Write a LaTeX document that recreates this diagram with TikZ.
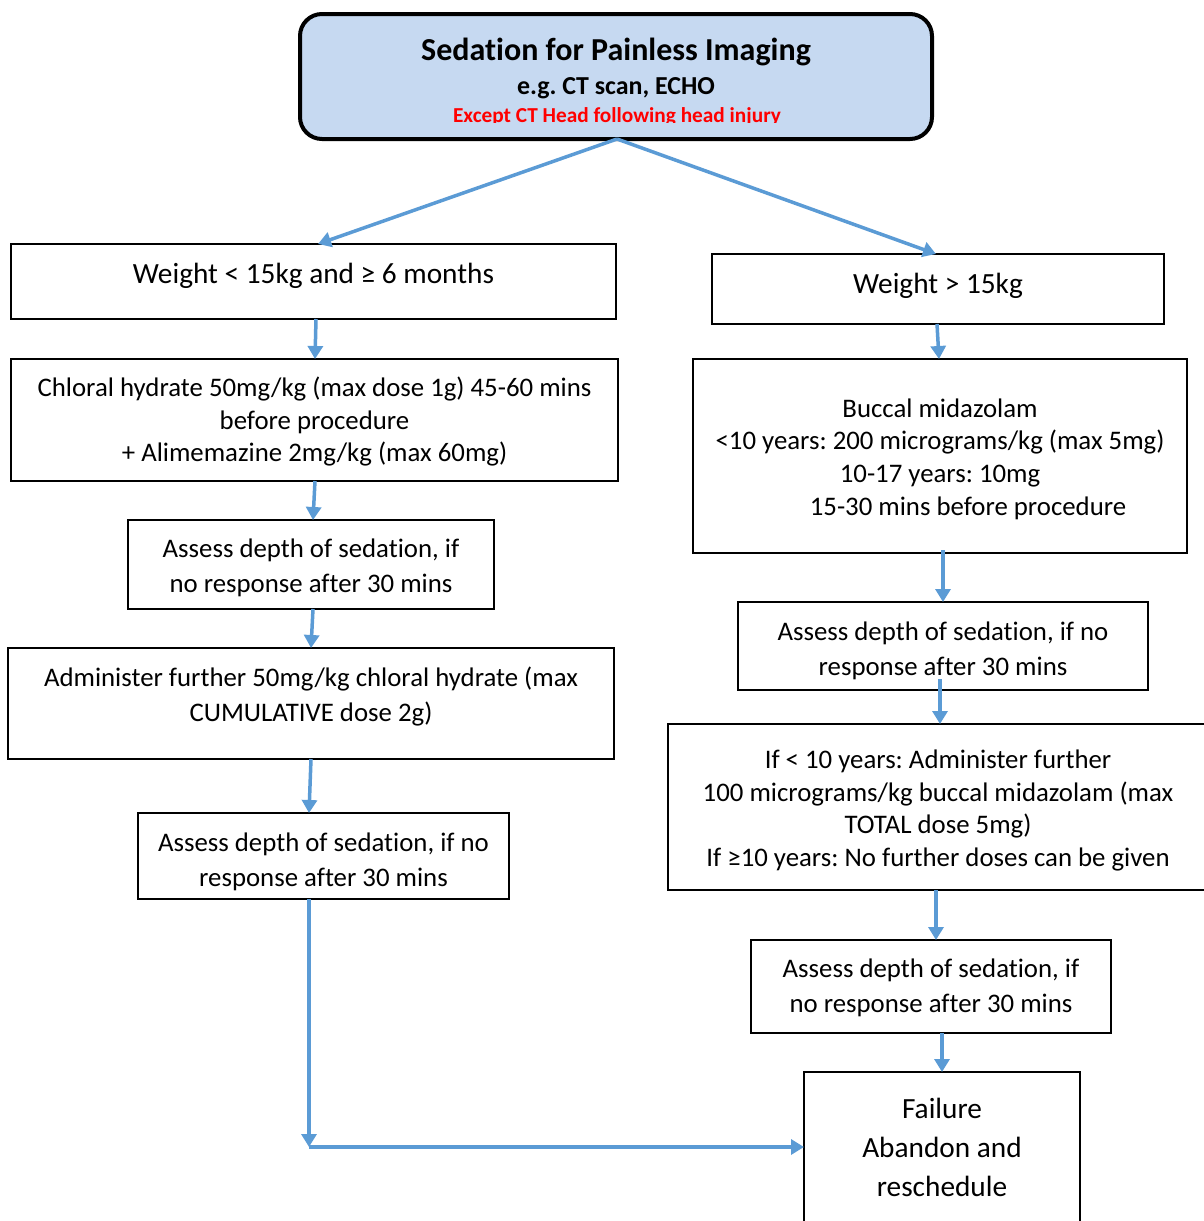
\documentclass[tikz,border=0pt]{standalone}
\usepackage{fontspec}
\setmainfont{Carlito}[Ligatures=NoCommon]
\usetikzlibrary{arrows.meta}
\definecolor{topfill}{HTML}{C6D9F1}
\definecolor{arrblue}{HTML}{5B9BD5}
\definecolor{redtxt}{HTML}{FF0000}
\frenchspacing
\tikzset{
  box/.style={draw=black, line width=2pt, inner sep=0pt, outer sep=0pt},
  txt/.style={align=center, inner sep=0pt, font=\fontsize{26.8}{35}\selectfont},
  txtm/.style={align=center, inner sep=0pt, font=\fontsize{26.8}{32.7}\selectfont},
  bigtxt/.style={align=center, inner sep=0pt, font=\fontsize{29.3}{39}\selectfont},
  arr/.style={draw=arrblue, line width=3.5pt, -{Triangle[width=15pt,length=13pt]}}
}
\begin{document}
\begin{tikzpicture}[x=1pt,y=-1pt]
\useasboundingbox (0,0) rectangle (1203,1221);
% top box
\node[draw=black, line width=4pt, fill=topfill, rounded corners=22pt, minimum width=632pt, minimum height=125pt, inner sep=0pt, outer sep=0pt] (top) at (616,76.5) {};
\node[inner sep=0pt, font=\fontsize{32}{36}\selectfont\bfseries] (t1) at (616,52) {Sedation for Painless Imaging};
\node[inner sep=0pt, font=\fontsize{25.9}{30}\selectfont\bfseries] (t2) at (616,88) {e.g. CT scan, ECHO};
\begin{scope}
\clip (300,100) rectangle (932,122.5);
\node[inner sep=0pt, anchor=base, text=redtxt, font=\fontsize{21.3}{24}\selectfont\bfseries] (t3) at (617,122.5) {Except CT Head following head injury};
\end{scope}
% left column
\node[box, minimum width=605pt, minimum height=75pt] (b1) at (313.5,281.5) {};
\node[bigtxt] (b1t) at (313.5,276) {Weight < 15kg and ≥ 6 months};
\node[box, minimum width=607pt, minimum height=122pt] (b2) at (314.5,420) {};
\node[txtm] (b2t) at (314.5,421.5) {Chloral hydrate 50mg/kg (max dose 1g) 45-60 mins\\before procedure\\+ Alimemazine 2mg/kg (max 60mg)};
\node[box, minimum width=366pt, minimum height=89pt] (b3) at (311,564.5) {};
\node[txt] (b3t) at (311,568) {Assess depth of sedation, if\\no response after 30 mins};
\node[box, minimum width=606pt, minimum height=111pt] (b4) at (311,703.5) {};
\node[txt] (b4t) at (311,696) {Administer further 50mg/kg chloral hydrate (max\\CUMULATIVE dose 2g)};
\node[box, minimum width=371pt, minimum height=86pt] (b5) at (323.5,856) {};
\node[txt] (b5t) at (323.5,862) {Assess depth of sedation, if no\\response after 30 mins};
% right column
\node[box, minimum width=452pt, minimum height=70pt] (r1) at (938,289) {};
\node[bigtxt] (r1t) at (938,286) {Weight > 15kg};
\node[box, minimum width=494pt, minimum height=194pt] (r2) at (940,456) {};
\node[txtm] (r2t) at (940,459) {Buccal midazolam\\<10 years: 200 micrograms/kg (max 5mg)\\10-17 years: 10mg\\\hspace*{56pt}15-30 mins before procedure};
\node[box, minimum width=410pt, minimum height=88pt] (r3) at (943,646) {};
\node[txt] (r3t) at (943,651) {Assess depth of sedation, if no\\response after 30 mins};
\node[box, minimum width=540pt, minimum height=166pt] (r4) at (938,807) {};
\node[txtm] (r4t) at (938,810.5) {If < 10 years: Administer further\\100 micrograms/kg buccal midazolam (max\\TOTAL dose 5mg)\\If ≥10 years: No further doses can be given};
\node[box, minimum width=360pt, minimum height=93pt] (r5) at (931,986.5) {};
\node[txt] (r5t) at (931,988) {Assess depth of sedation, if\\no response after 30 mins};
\node[box, minimum width=276pt, minimum height=158pt] (r6) at (942,1151) {};
\node[bigtxt] (r6t) at (942,1147) {Failure\\Abandon and\\reschedule};
\coordinate (corner) at (309,1147);
% arrows
\draw[arr] ([xshift=1pt]top.south) -- ([xshift=4.5pt]b1.north);
\draw[arr] ([xshift=1pt]top.south) -- ([xshift=-2pt]r1.north);
\draw[arr] ([xshift=2.5pt]b1.south) -- ([xshift=0.5pt]b2.north);
\draw[arr] ([xshift=0.5pt]b2.south) -- ([xshift=2pt]b3.north);
\draw[arr] ([xshift=2pt]b3.south) -- (b4.north);
\draw[arr] (b4.south) -- ([xshift=-14.5pt]b5.north);
\draw[arr] ([xshift=-14.5pt]b5.south) -- (corner);
\draw[arr] (corner) -- (r6.west |- corner);
\draw[arr] ([xshift=-1pt]r1.south) -- ([xshift=-1pt]r2.north);
\draw[arr] ([xshift=3pt,yshift=3pt]r2.south) -- (r3.north);
\draw[arr] ([xshift=-3pt,yshift=11pt]r3.south) -- ([xshift=2pt]r4.north);
\draw[arr] ([xshift=-2pt]r4.south) -- ([xshift=5pt]r5.north);
\draw[arr] ([xshift=11pt]r5.south) -- (r6.north);
\end{tikzpicture}
\end{document}
